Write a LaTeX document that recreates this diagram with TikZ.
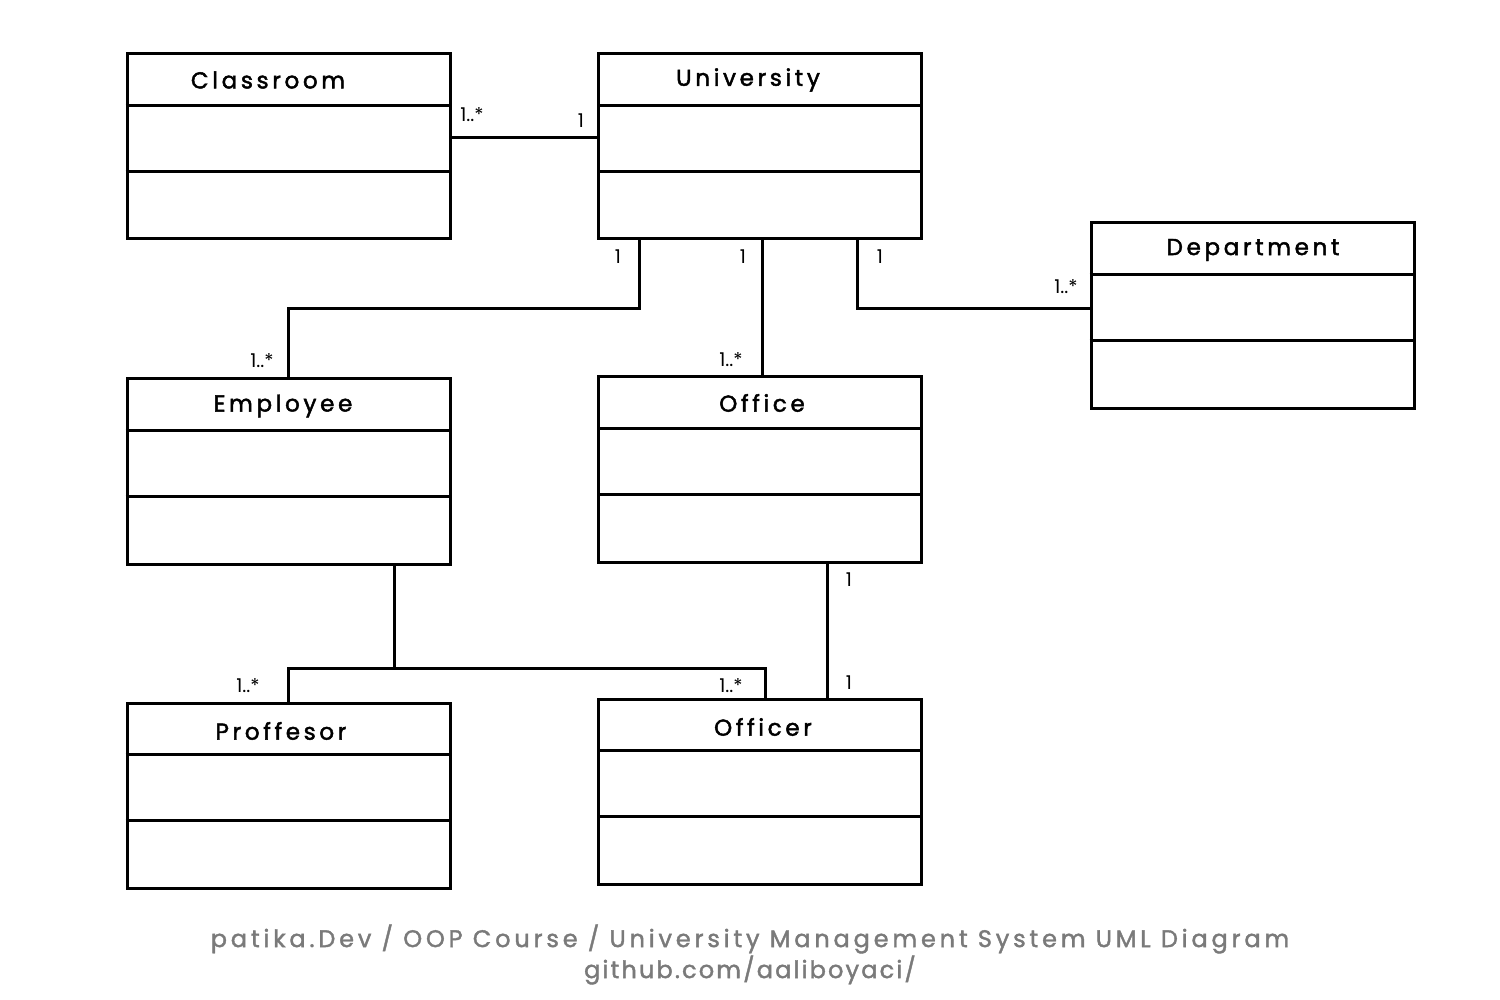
\documentclass[tikz,border=0pt]{standalone}
\usepackage{fontspec}
\setmainfont{Poppins}
\newfontfamily\titlefont[LetterSpace=16,FakeBold=2]{Poppins}
\newfontfamily\footfont[LetterSpace=16,FakeBold=1.6]{Poppins}
\newfontfamily\footfontb[LetterSpace=9,FakeBold=1.6]{Poppins}
\newfontfamily\multfont{Poppins}
\usetikzlibrary{calc}
\definecolor{footgray}{HTML}{7A7A7A}
\tikzset{
  umlbox/.style={draw, line width=3pt, minimum width=323pt, minimum height=185pt, inner sep=0pt},
  umltitle/.style={font=\titlefont\fontsize{23}{25}\selectfont, inner sep=0pt},
  conn/.style={line width=3pt},
  mult/.style={font=\multfont\fontsize{19}{22}\selectfont, inner sep=0pt},
  foot/.style={font=\footfont\fontsize{24}{27}\selectfont, text=footgray, inner sep=0pt},
  footb/.style={font=\footfontb\fontsize{24}{27}\selectfont, text=footgray, inner sep=0pt}
}
\newcommand{\umldividers}[1]{%
  \draw[conn] ([yshift=-53pt]#1.north west) -- ([yshift=-53pt]#1.north east);
  \draw[conn] ([yshift=-119pt]#1.north west) -- ([yshift=-119pt]#1.north east);}
\begin{document}
\begin{tikzpicture}[x=1pt,y=-1pt]
\useasboundingbox[fill=white] (0,0) rectangle (1500,1000);
% boxes
\node[umlbox] (classroom) at (288.5,146.5) {};
\node[umlbox] (univ) at (760,146.5) {};
\node[umlbox] (dept) at (1252.5,315.5) {};
\node[umlbox] (emp) at (288.5,471.5) {};
\node[umlbox] (office) at (760,469.5) {};
\node[umlbox] (prof) at (288.5,795.5) {};
\node[umlbox] (offr) at (760,791.5) {};
\umldividers{classroom}
\umldividers{univ}
\umldividers{dept}
\umldividers{emp}
\umldividers{office}
\umldividers{prof}
\umldividers{offr}
% titles
\node[umltitle] (classroom-t) at (268,80) {Classroom};
\node[umltitle] (univ-t) at (748,80) {University};
\node[umltitle] (dept-t) at (1253,250) {Department};
\node[umltitle] (emp-t) at (283,406) {Employee};
\node[umltitle] (office-t) at (762,403) {Office};
\node[umltitle] (prof-t) at (281,731) {Proffesor};
\node[umltitle] (offr-t) at (763,727) {Officer};
% connectors
\draw[conn] ([yshift=8.5pt]classroom.east) -- ([yshift=8.5pt]univ.west);
\draw[conn] ([xshift=-121pt]univ.south) |- (emp.north |- 0,309) -- (emp.north);
\draw[conn] ([xshift=2pt]univ.south) -- ([xshift=2pt]office.north);
\draw[conn] ([xshift=97pt]univ.south) |- ([yshift=6.5pt]dept.west);
\draw[conn] ([xshift=105.5pt]emp.south) -- ++(0,103) coordinate (jn);
\draw[conn] (jn) -| (prof.north);
\draw[conn] (jn) -| ([xshift=5pt]offr.north);
\draw[conn] ([xshift=67pt]office.south) -- ([xshift=67pt]offr.north);
% multiplicities
\node[mult] (m1) at (472,115) {1..*};
\node[mult] (m2) at (581,121) {1};
\node[mult] (m3) at (618,257) {1};
\node[mult] (m4) at (262,361) {1..*};
\node[mult] (m5) at (743,257) {1};
\node[mult] (m6) at (731,360) {1..*};
\node[mult] (m7) at (880,257) {1};
\node[mult] (m8) at (1066,287) {1..*};
\node[mult] (m9) at (248,686) {1..*};
\node[mult] (m10) at (731,686) {1..*};
\node[mult] (m11) at (849,580) {1};
\node[mult] (m12) at (849,683) {1};
% footer
\node[foot] (foot1) at (750,939) {patika.Dev / OOP Course / University Management System UML Diagram};
\node[footb] (foot2) at (750,970) {github.com/aaliboyaci/};
\end{tikzpicture}
\end{document}
